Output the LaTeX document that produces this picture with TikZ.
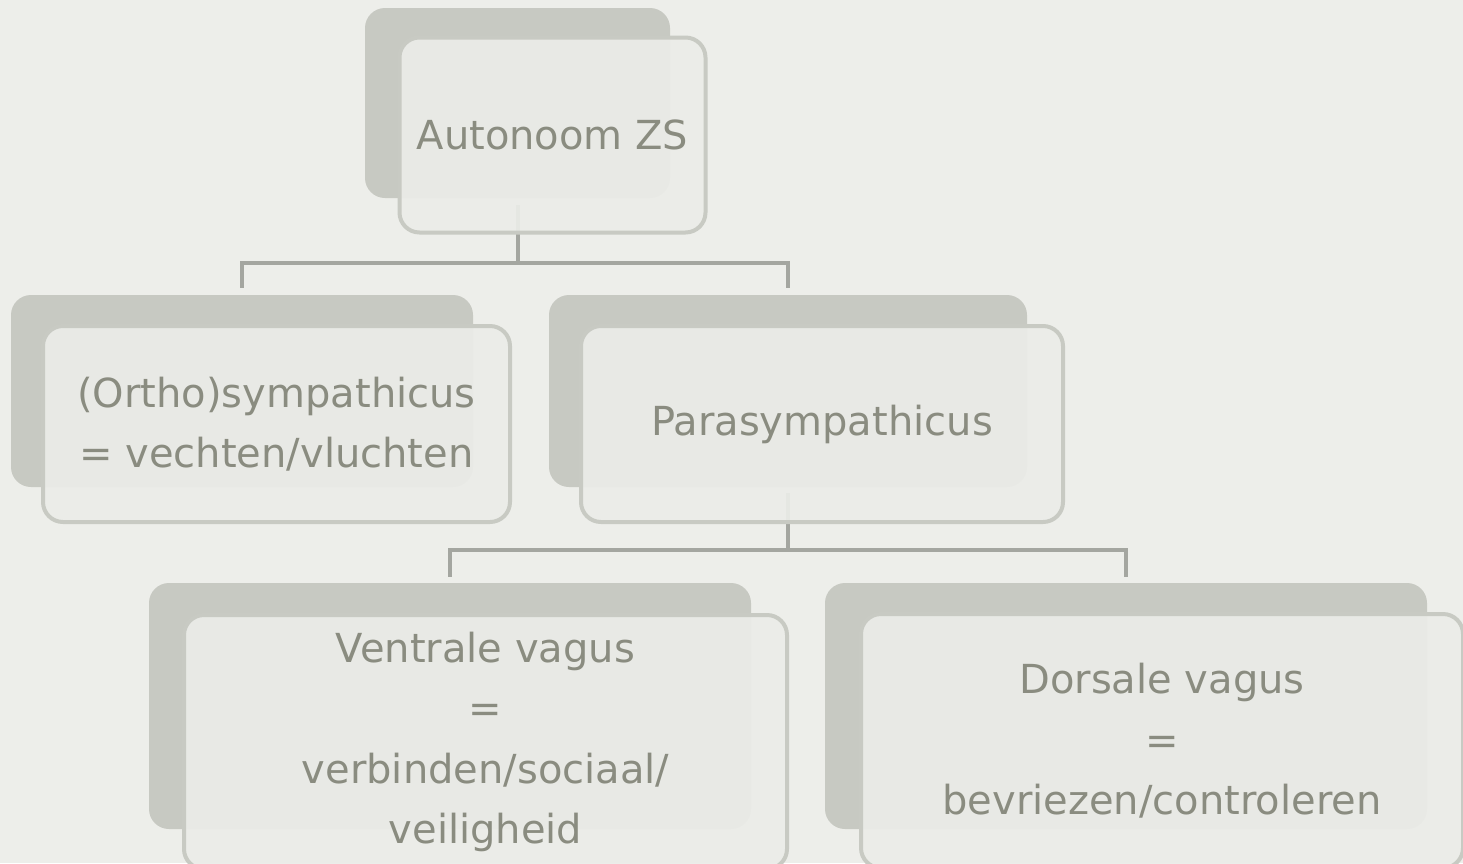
\documentclass[tikz,border=0pt]{standalone}
\usepackage{fontspec}
\setmainfont{DejaVu Sans}

\definecolor{achtergrond}{HTML}{EDEEEA}
\definecolor{schaduw}{HTML}{C7C9C2}
\definecolor{vlak}{HTML}{EBECE8}
\definecolor{rand}{HTML}{C8CAC3}
\definecolor{tekst}{HTML}{8A8C80}
\definecolor{lijn}{HTML}{A4A6A0}

\tikzset{
    achter/.style={rectangle, rounded corners=20pt, fill=schaduw, inner sep=0pt},
    voor/.style={rectangle, rounded corners=20pt, draw=rand, line width=4pt,
        fill=vlak, fill opacity=0.93, text opacity=1, text=tekst, align=center,
        font=\fontsize{40}{60.5}\selectfont, inner sep=0pt},
    tak/.style={draw=lijn, line width=4pt}
}

\begin{document}
\begin{tikzpicture}[x=1pt, y=-1pt]
        \path[fill=achtergrond, use as bounding box] (0, 0) rectangle (1463, 863);
        \clip (0, 0) rectangle (1463, 863);

        % achterste vlakken
        \node[achter, minimum width=305pt, minimum height=190pt] (auto) at (517.5, 103){};
        \node[achter, minimum width=462pt, minimum height=192pt] (ortho) at (242, 391){};
        \node[achter, minimum width=478pt, minimum height=192pt] (para) at (788, 391){};
        \node[achter, minimum width=602pt, minimum height=246pt] (ventraal) at (450, 706){};
        \node[achter, minimum width=602pt, minimum height=246pt] (dorsaal) at (1126, 706){};

        % verbindingen
        \draw[tak] ([yshift=-7pt]auto.south) -- ++(0, 58) coordinate (splits1);
        \draw[tak] ([yshift=7pt]ortho.north) |- (splits1) -| ([yshift=7pt]para.north);
        \draw[tak] ([yshift=-6pt]para.south) -- ++(0, 57) coordinate (splits2);
        \draw[tak] ([yshift=6pt]ventraal.north) |- (splits2) -| ([yshift=6pt]dorsaal.north);

        % voorste vlakken met tekst
        \node[voor, minimum width=306pt, minimum height=195pt] (autoV) at ([xshift=35pt, yshift=-32pt]auto.center){Autonoom ZS};
        \node[voor, minimum width=467pt, minimum height=196pt] (orthoV) at ([xshift=34.5pt, yshift=-33pt]ortho.center){(Ortho)sympathicus\\= vechten/vluchten};
        \node[voor, minimum width=482pt, minimum height=196pt] (paraV) at ([xshift=34pt, yshift=-33pt]para.center){Parasympathicus};
        \node[voor, minimum width=603pt, minimum height=254pt] (ventraalV) at ([xshift=35.5pt, yshift=-36pt]ventraal.center){Ventrale vagus\\=\\verbinden/sociaal/\\veiligheid};
        \node[voor, minimum width=602pt, minimum height=254pt] (dorsaalV) at ([xshift=36pt, yshift=-35pt]dorsaal.center){Dorsale vagus\\=\\bevriezen/controleren};
    \end{tikzpicture}
\end{document}
